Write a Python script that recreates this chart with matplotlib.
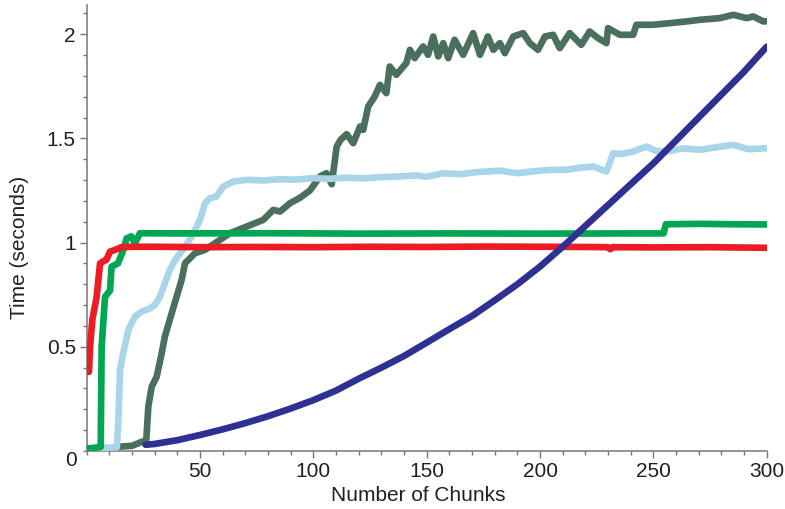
import matplotlib
matplotlib.use("Agg")
import matplotlib.pyplot as plt
from matplotlib.ticker import MultipleLocator

plt.rcParams['font.family'] = ['Liberation Sans', 'DejaVu Sans']

red_x = [1, 1.5, 2.5, 4.4, 5.9, 7.3, 8.7, 10.3, 12.5, 15.3, 20, 30, 50, 75, 100,
         125, 150, 175, 200, 220, 230, 231, 232, 250, 275, 300]
red_y = [0.38, 0.50, 0.63, 0.74, 0.90, 0.91, 0.917, 0.957, 0.965, 0.978, 0.98,
         0.98, 0.978, 0.979, 0.978, 0.98, 0.979, 0.981, 0.98, 0.979, 0.978, 0.968,
         0.978, 0.977, 0.978, 0.975]

green_x = [0, 3, 6.2, 6.6, 8.1, 10.3, 11.0, 13.8, 16.2, 17.6, 19.7, 21.3, 23.5,
           40, 80, 120, 160, 200, 240, 254.5, 255.5, 270, 285, 300]
green_y = [0.012, 0.015, 0.02, 0.5, 0.74, 0.77, 0.885, 0.90, 0.965, 1.02, 1.03,
           0.997, 1.045, 1.044, 1.045, 1.043, 1.044, 1.043, 1.044, 1.044, 1.088,
           1.09, 1.088, 1.087]

lblue_x = [6.5, 10, 13.3, 14.0, 14.7, 16.1, 18.4, 21.3, 24.3, 27.9, 30.1, 32.3,
           34.5, 36.7, 39.0, 41.2, 43.4, 46.3, 48.5, 50, 52.2, 54.4, 57.2, 60.3,
           64.7, 70.6, 78, 85.3, 92, 100, 107, 114.6, 122, 129.4, 138, 145, 150,
           157.3, 165, 172, 182.3, 190, 197, 204.4, 211.7, 218, 223.5, 229.3,
           232.3, 236, 241.1, 247, 251, 255.9, 263, 270.6, 278, 285.3, 292, 300]
lblue_y = [0.015, 0.016, 0.018, 0.149, 0.389, 0.469, 0.581, 0.645, 0.669, 0.685,
           0.70, 0.74, 0.805, 0.869, 0.917, 0.949, 0.98, 1.03, 1.077, 1.109,
           1.189, 1.213, 1.221, 1.269, 1.293, 1.301, 1.298, 1.304, 1.302, 1.309,
           1.306, 1.312, 1.308, 1.314, 1.317, 1.322, 1.316, 1.333, 1.328, 1.338,
           1.345, 1.333, 1.342, 1.349, 1.349, 1.36, 1.365, 1.341, 1.429, 1.425,
           1.437, 1.461, 1.44, 1.437, 1.452, 1.445, 1.458, 1.469, 1.448, 1.453]

dgreen_x = [13, 20, 26.3, 27.2, 28.7, 30.9, 33.1, 34.5, 37.5, 39.7, 41.9, 43.4,
            47.8, 52.2, 56.6, 61, 63.2, 70.6, 77.9, 82.3, 85.3, 89.7, 94.1, 98.5,
            102.9, 105.8, 108.1, 110.3, 112, 114.7, 117.6, 120.6, 122, 124.2,
            127.1, 129.4, 132.2, 133.7, 136.6, 141, 142.6, 144.7, 148.4, 150.6,
            152.9, 155.1, 157.3, 159.5, 162.3, 166.1, 170.5, 173.5, 177, 179.4,
            182.3, 184.5, 188.2, 192.6, 195.5, 199.1, 202.2, 205.8, 208.7, 213.1,
            218.2, 221.9, 225.6, 229.3, 230, 235.2, 241.1, 242.5, 249.9, 257.3,
            264.6, 270.6, 279.4, 285.3, 291.2, 294.1, 298.5, 300]
dgreen_y = [0.02, 0.025, 0.053, 0.213, 0.309, 0.357, 0.469, 0.549, 0.661, 0.741,
            0.821, 0.901, 0.949, 0.965, 0.997, 1.029, 1.045, 1.077, 1.109, 1.157,
            1.149, 1.189, 1.215, 1.25, 1.317, 1.333, 1.28, 1.461, 1.493, 1.52,
            1.477, 1.557, 1.541, 1.653, 1.701, 1.757, 1.717, 1.845, 1.805, 1.861,
            1.925, 1.885, 1.941, 1.901, 1.989, 1.893, 1.957, 1.885, 1.973, 1.901,
            2.005, 1.901, 1.989, 1.925, 1.957, 1.909, 1.989, 2.005, 1.957, 1.925,
            1.989, 1.997, 1.933, 2.005, 1.949, 2.013, 1.981, 1.957, 2.029, 1.997,
            1.997, 2.045, 2.045, 2.053, 2.061, 2.069, 2.077, 2.093, 2.077, 2.085,
            2.061, 2.062]

navy_x = [26, 30, 40, 50, 60, 70, 80, 90, 100, 110, 120, 130, 140, 150, 160,
          170, 180, 190, 200, 210, 220, 230, 240, 250, 260, 270, 280, 290, 300]
navy_y = [0.03, 0.034, 0.052, 0.077, 0.104, 0.134, 0.167, 0.204, 0.244, 0.29,
          0.347, 0.40, 0.456, 0.52, 0.585, 0.648, 0.723, 0.80, 0.885, 0.98, 1.08,
          1.18, 1.28, 1.38, 1.49, 1.60, 1.71, 1.82, 1.94]


def main():
    fig = plt.figure(figsize=(7.85, 5.09), dpi=100)
    ax = fig.add_axes([0.1104, 0.1139, 0.8663, 0.8763])

    lw = 4.8
    kw = dict(solid_capstyle='round', solid_joinstyle='round')
    ax.plot(dgreen_x, dgreen_y, color='#4a6f5d', lw=lw, zorder=2, **kw)
    ax.plot(lblue_x, lblue_y, color='#a8d5e8', lw=lw, zorder=3, **kw)
    ax.plot(green_x, green_y, color='#00a651', lw=lw, zorder=4, **kw)
    ax.plot(red_x, red_y, color='#ed1c24', lw=lw, zorder=5, **kw)
    ax.plot(navy_x, navy_y, color='#2e3192', lw=lw, zorder=6, **kw)

    ax.set_xlim(0, 300)
    ax.set_ylim(0, 2.14)

    for s in ['top', 'right']:
        ax.spines[s].set_visible(False)
    for s in ['left', 'bottom']:
        ax.spines[s].set_color('#777777')
        ax.spines[s].set_linewidth(1.1)

    ax.xaxis.set_minor_locator(MultipleLocator(10))
    ax.yaxis.set_minor_locator(MultipleLocator(0.1))
    ax.set_xticks([50, 100, 150, 200, 250, 300])
    ax.set_yticks([0.5, 1, 1.5, 2])
    ax.set_yticklabels(['0.5', '1', '1.5', '2'])
    ax.tick_params(which='major', length=4.8, width=1, color='#777777',
                   labelsize=15, labelcolor='#231f20', pad=3)
    ax.tick_params(which='minor', length=2.8, width=1, color='#777777')

    # origin label sits below-left of the corner
    ax.annotate('0', xy=(0, 0), xytext=(-16, -9), textcoords='offset pixels',
                ha='center', va='center', fontsize=15, color='#231f20',
                annotation_clip=False)

    ax.set_xlabel('Number of Chunks', fontsize=15, color='#231f20')
    ax.set_ylabel('Time (seconds)', fontsize=15, color='#231f20')
    ax.xaxis.set_label_coords(0.487, -0.079)
    ax.yaxis.set_label_coords(-0.085, 0.457)

    fig.savefig('out.png', dpi=100)


if __name__ == '__main__':
    main()
